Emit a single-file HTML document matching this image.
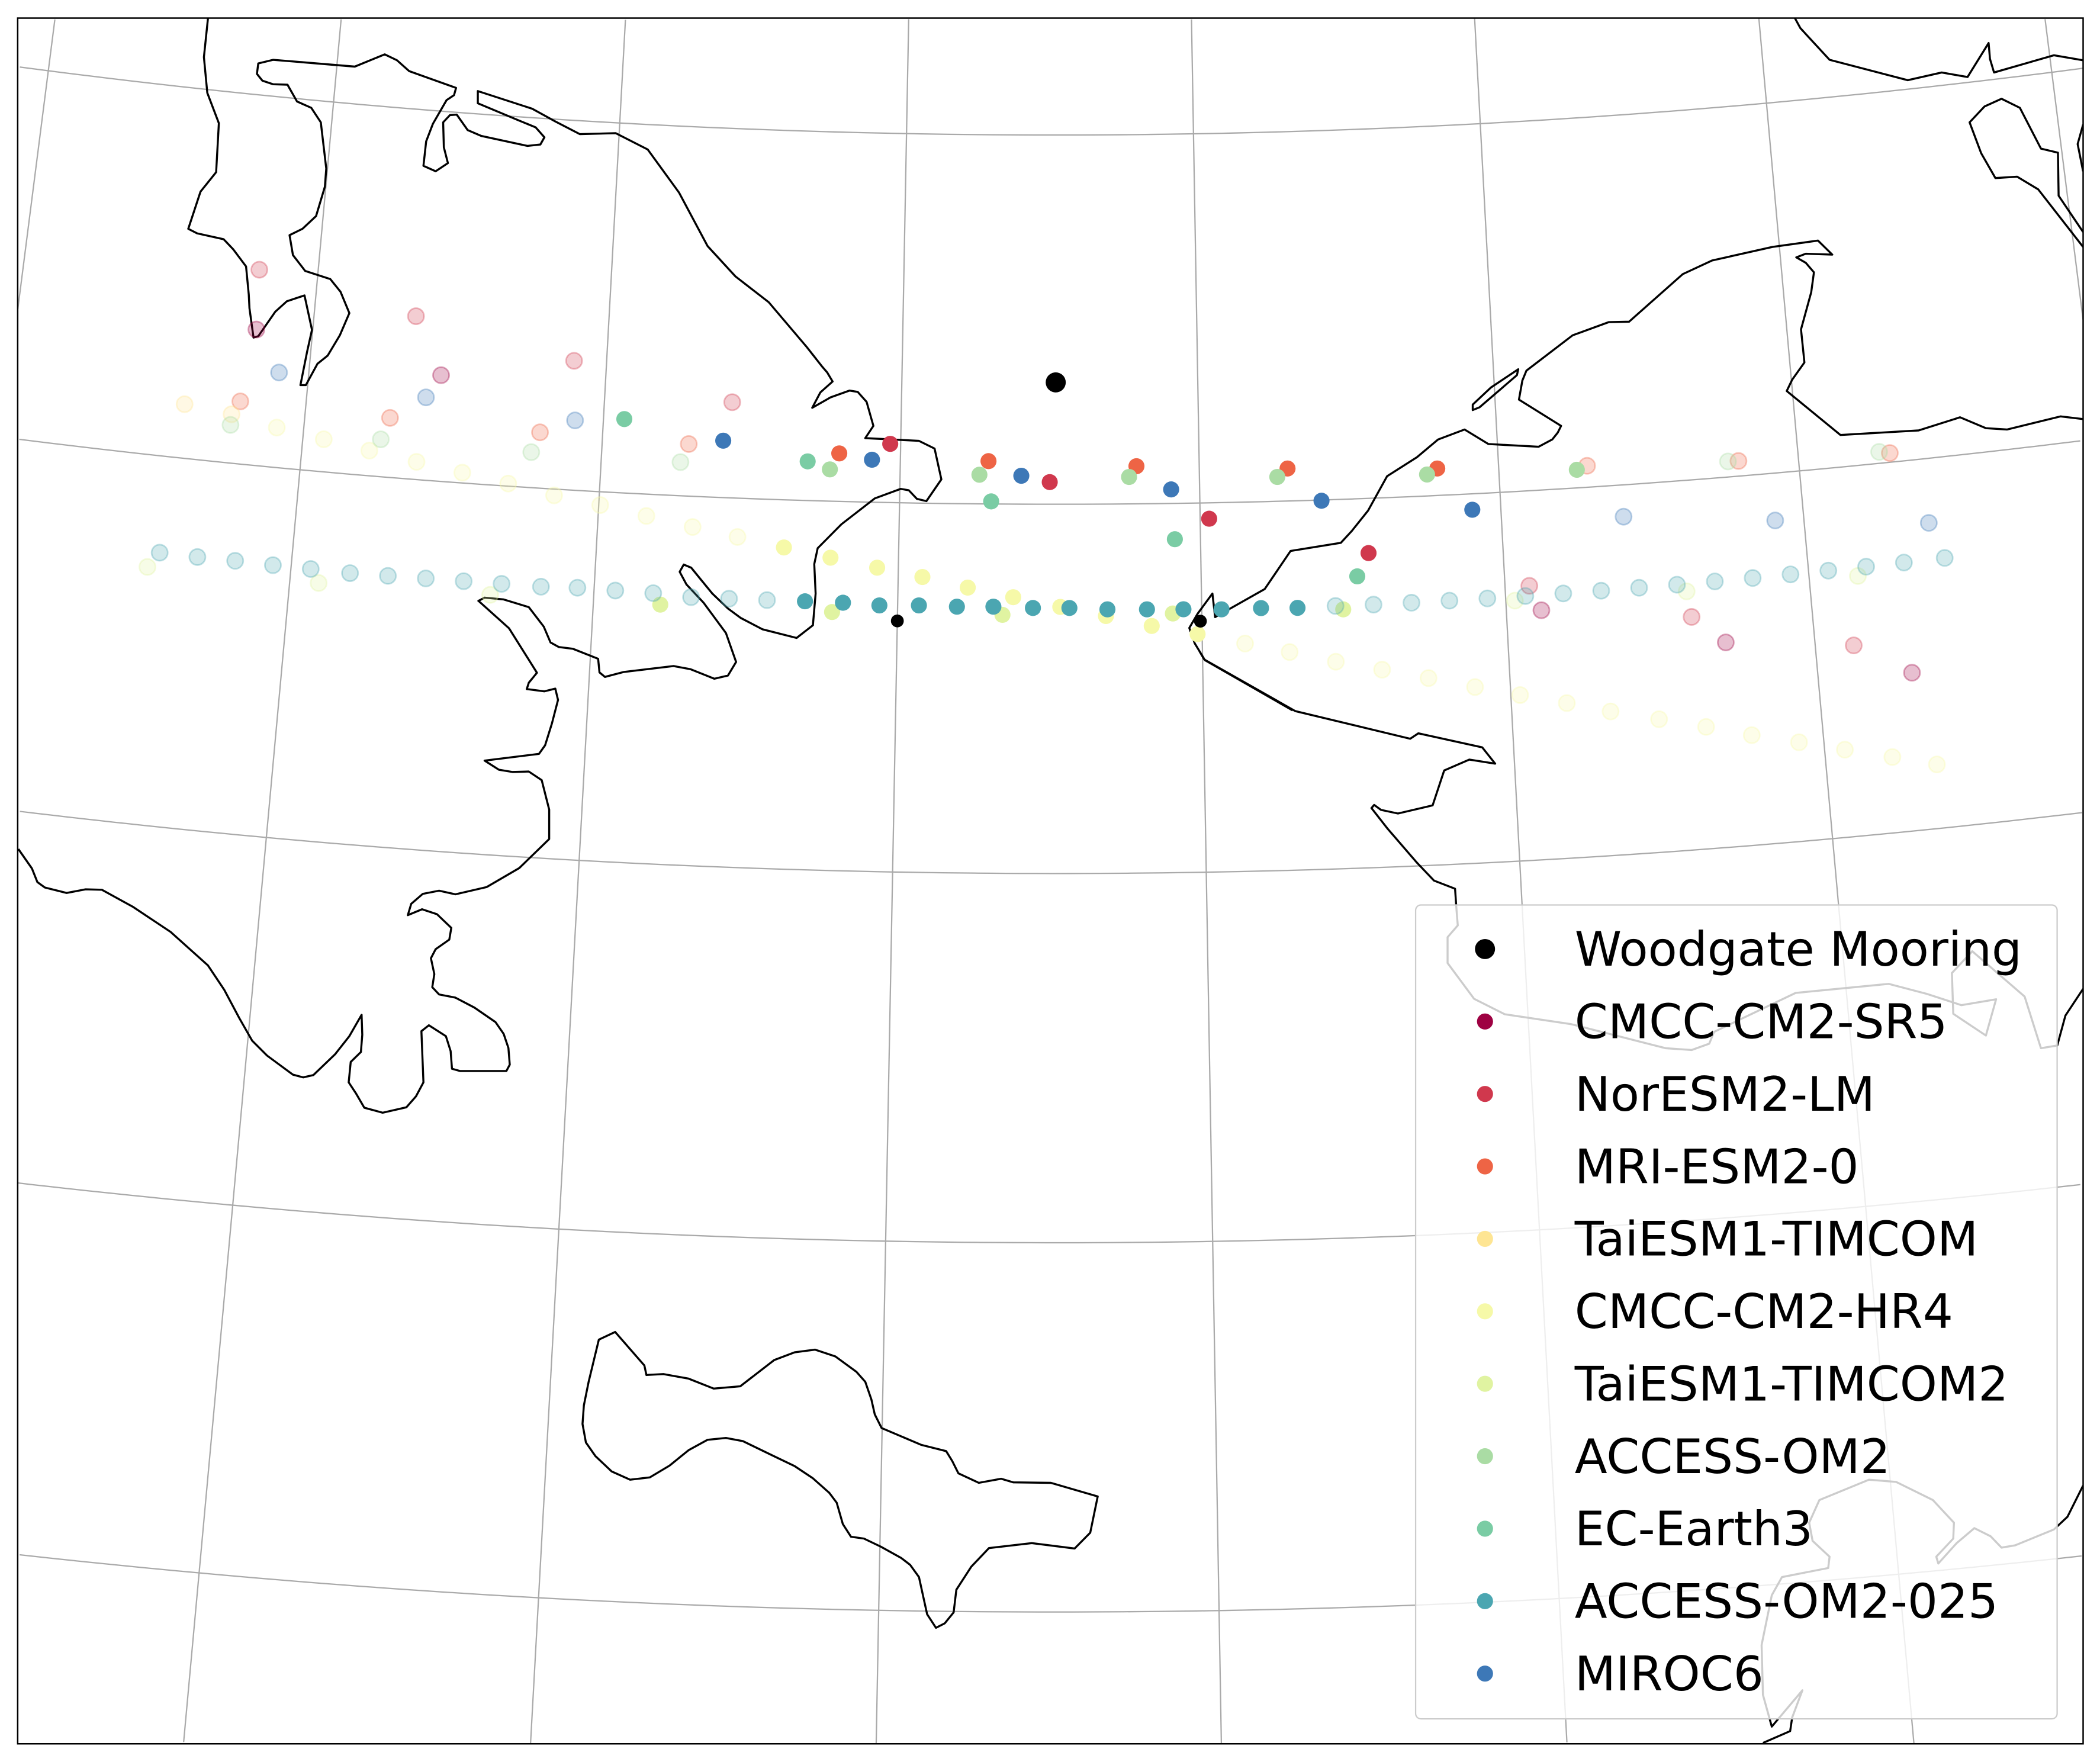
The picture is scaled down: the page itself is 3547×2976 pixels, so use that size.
<!DOCTYPE html>
<html><head><meta charset="utf-8"><title>Bering Strait model sections</title>
<style>html,body{margin:0;padding:0;background:#fff;width:3547px;height:2976px;overflow:hidden}svg{display:block;vertical-align:top}</style></head>
<body>
<svg id="map" xmlns="http://www.w3.org/2000/svg" width="3547" height="2976" viewBox="0 0 1568 1315.6" preserveAspectRatio="none">
<defs><clipPath id="frameClip"><rect x="13.2" y="13.5" width="1542.2" height="1288.5"/></clipPath></defs>
<rect x="0" y="0" width="1568" height="1315.6" fill="#fff"/>
<g id="grid" clip-path="url(#frameClip)" fill="none" stroke="#aaaaaa" stroke-width="1"></g>
<g id="coast" clip-path="url(#frameClip)" fill="none" stroke="#000" stroke-linejoin="round">
<g transform="translate(0,0) scale(0.5075,0.3383)"><path vector-effect="non-scaling-stroke" stroke-width="3.4" d="M306,40 L300,126 305,205 322,272 318,380 295,423 277,505 290,515 329,528 343,550 362,588 366,650 367,680 373,745 380,742 405,688 422,665 448,652 459,728 452,775 442,850 450,850 467,803 482,785 500,740 514,691 501,644 486,616 449,598 431,563 426,519 445,505 465,477 478,412 480,372 472,270 458,238 437,224 423,187 402,186 386,178 378,163 380,140 402,132 522,147 566,120 584,133 602,157 671,194 668,210 657,221 637,273 627,312 623,366 641,378 659,360 653,325 652,270 662,254 672,253 688,287 708,300 776,322 795,319 801,303 788,281 762,265 703,228 703,201 783,240 817,268 853,296 906,294 953,330 999,425 1041,543 1082,610 1131,667 1187,766 1209,808 1217,822 1225,842 1207,866 1195,900 1222,877 1250,862 1262,865 1275,887 1285,940 1273,967 1352,973 1375,990 1385,1058 1363,1106 1349,1101 1337,1082 1325,1079 1287,1100 1238,1157 1203,1210 1198,1245 1200,1310 1196,1380 1172,1408 1122,1389 1090,1364 1071,1343 1048,1310 1030,1277 1017,1253 1006,1246 1000,1262 1010,1290 1035,1330 1068,1397 1083,1461 1071,1491 1051,1498 1016,1477 991,1470 918,1483 890,1494 882,1484 880,1454 843,1432 822,1428 810,1418 800,1383 778,1340 741,1323 713,1319 703,1327"/></g>
<g transform="translate(0,442.1) scale(0.5075,0.3383)"><path vector-effect="non-scaling-stroke" stroke-width="3.4" d="M703,18 L749,80 790,178 778,200 775,214 801,219 817,213 821,238 812,290 802,338 793,357 713,372 734,392 754,397 778,396 797,415 808,480 808,545 764,609 716,651 670,667 646,659 622,666 605,688 600,713 621,700 643,711 664,741 661,767 641,788 634,808 639,843 636,872 646,888 670,895 698,917 729,949 741,975 748,1006 750,1043 745,1057 677,1057 665,1052 663,1013 656,980 631,956 620,969 623,1082 612,1113 598,1137 563,1149 536,1138 524,1107 513,1082 516,1037 531,1015 533,977 532,933 514,980 493,1020 461,1066 446,1071 431,1065 393,1023 371,990 352,940 330,878 306,824 251,750 196,695 150,657 126,656 98,664 66,652 55,640 47,610 27,567"/></g>
<g transform="translate(397.9,785.1) scale(0.5075,0.3383)"><path vector-effect="non-scaling-stroke" stroke-width="3.4" d="M97,636 L121,619 164,693 167,714 192,712 229,722 266,744 305,739 355,681 385,664 415,658 445,673 476,707 489,729 498,768 503,801 513,831 571,868 608,882 617,904 626,931 656,952 689,943 707,951 762,952 831,982 820,1062 797,1097 734,1085 671,1096 645,1137 623,1188 619,1238 606,1262 593,1272 580,1242 575,1208 568,1160 555,1133 542,1118 512,1093 487,1075 468,1071 456,1043 447,996 436,974 412,942 385,915 353,892 309,860 284,853 257,857 229,880 201,914 172,940 143,945 116,927 92,893 78,863 73,822 75,781 82,729 Z"/></g>
<g transform="translate(772.3,0) scale(0.5075,0.3383)">
<path vector-effect="non-scaling-stroke" stroke-width="3.4" d="M1119,40 L1127,62 1170,132 1285,177 1335,160 1373,170 1404,95 1406,130 1412,160 1500,122 1543,133"/>
<path vector-effect="non-scaling-stroke" stroke-width="3.4" d="M1543,545 L1477,418 1446,390 1414,393 1393,338 1376,270 1398,235 1423,218 1450,238 1481,328 1506,337 1507,432 1543,512"/>
<path vector-effect="non-scaling-stroke" stroke-width="3.4" d="M1543,275 L1535,318 1543,378"/>
<path vector-effect="non-scaling-stroke" stroke-width="3.4" d="M380,1568 L251,1457 236,1420 228,1386 240,1355 262,1310 266,1362 339,1300 377,1216 451,1198 467,1172 491,1127 519,1051 563,1009 594,970 633,948 668,980 742,986 762,970 770,955 775,940 713,882 718,840 724,818 792,740 845,711 875,710 954,605 997,575 1086,545 1153,531 1174,562 1135,560 1121,568 1135,580 1147,601 1143,645 1128,727 1133,800 1115,838 1107,863 1186,960 1301,950 1362,921 1400,945 1431,948 1510,919 1543,925"/>
<path vector-effect="non-scaling-stroke" stroke-width="3.4" d="M645,905 L645,893 672,855 712,815 710,828 655,899 Z"/>
</g>
<g transform="translate(772.3,486.3) scale(0.5075,0.3383)"><path vector-effect="non-scaling-stroke" stroke-width="3.4" d="M243,0 L250,18 384,132 553,193 565,181 659,212 678,248 640,239 603,263 586,340 535,358 510,350 500,339 496,346 520,392 562,465 588,506 619,524 621,568 623,605 608,631 608,688 647,767 692,801 790,823 929,876 967,880 993,866 1000,840 1120,754 1257,734 1313,756 1364,781 1415,768 1400,848 1352,800 1350,710 1380,662 1457,762 1481,876 1505,870 1517,804 1543,745"/></g>
<g transform="translate(772.3,785.1) scale(0.5075,0.3383)"><path vector-effect="non-scaling-stroke" stroke-width="3.4" d="M1543,958 L1520,1027 1500,1055 1443,1090 1423,1095 1407,1070 1383,1052 1357,1085 1330,1130 1327,1115 1352,1075 1353,1040 1322,990 1268,950 1228,945 1155,990 1140,1040 1145,1080 1170,1115 1168,1140 1100,1160 1085,1200 1070,1310 1072,1420 1085,1490 1130,1410 1115,1470 1112,1500 1072,1526"/></g>
</g>
<g id="points" clip-path="url(#frameClip)"></g>
<rect x="13.2" y="13.5" width="1542.2" height="1288.5" fill="none" stroke="#000" stroke-width="1.1"/>
<g id="legend">
<rect x="1057" y="675.7" width="479" height="607.7" rx="4" ry="4" fill="#fff" fill-opacity="0.8" stroke="#cccccc" stroke-width="1"/>
</g>
</svg>
<script>
// ---- data: lon (deg E) and lat (deg N) of each model's section points ----
const modelNames = ["CMCC-CM2-SR5","NorESM2-LM","MRI-ESM2-0","TaiESM1-TIMCOM","CMCC-CM2-HR4","TaiESM1-TIMCOM2","ACCESS-OM2","EC-Earth3","ACCESS-OM2-025","MIROC6"];
const modelColors = ["#9e0142","#d0384d","#ee6445","#fee593","#f6f9a8","#e0f3a1","#aadca4","#7acca4","#4ba6b1","#3d78b7"];

const moorLon = [-168.96];
const moorLat = [67.33];
const endLon = [-170.00, -168.01];
const endLat = [66.68, 66.68];

const sr5Lon = [-174.38,-173.11,-165.77,-164.58,-163.39];
const sr5Lat = [67.367,67.287,66.675,66.554,66.427];
const sr5Solid = [0,0,0,0,0];

const norLon = [-174.40,-173.31,-172.22,-171.14,-170.07,-169.00,-167.94,-166.89,-165.84,-164.79,-163.75];
const norLat = [67.529,67.441,67.350,67.259,67.159,67.060,66.957,66.852,66.743,66.630,66.516];
const norSolid = [0,0,0,0,1,1,1,1,0,0,0];

const mriLon = [-174.44,-173.43,-172.42,-171.42,-170.41,-169.41,-168.42,-167.41,-166.41,-165.41,-164.40,-163.39];
const mriLat = [67.169,67.161,67.151,67.141,67.130,67.116,67.102,67.088,67.073,67.058,67.041,67.025];
const mriSolid = [0,0,0,0,1,1,1,1,1,0,0,0];

const timLon = [-174.81,-174.49];
const timLat = [67.146,67.132];
const timSolid = [0,0];

const hr4Lon = [-174.18,-173.86,-173.55,-173.23,-172.92,-172.61,-172.30,-171.99,-171.68,-171.37,-171.07,-170.76,-170.45,-170.14,-169.84,-169.54,-169.24,-168.93,-168.63,-168.33,-168.03,-167.72,-167.43,-167.13,-166.83,-166.53,-166.23,-165.94,-165.64,-165.36,-165.05,-164.75,-164.46,-164.16,-163.87,-163.57,-163.29];
const hr4Lat = [67.108,67.088,67.068,67.048,67.028,67.007,66.983,66.964,66.941,66.917,66.895,66.871,66.847,66.823,66.800,66.773,66.748,66.722,66.697,66.669,66.645,66.617,66.591,66.561,66.535,66.507,66.477,66.449,66.420,66.390,66.360,66.330,66.298,66.268,66.237,66.205,66.173];
const hr4Solid = [0,0,0,0,0,0,0,0,0,0,0,1,1,1,1,1,1,1,1,1,1,0,0,0,0,0,0,0,0,0,0,0,0,0,0,0,0];

const tim2Lon = [-174.94,-173.81,-172.68,-171.56,-170.43,-169.31,-168.19,-167.07,-165.94,-164.81,-163.68];
const tim2Lat = [66.697,66.699,66.703,66.703,66.700,66.700,66.702,66.702,66.705,66.700,66.702];
const tim2Solid = [0,0,0,1,1,1,1,1,0,0,0];

const aomLon = [-174.49,-173.48,-172.47,-171.47,-170.47,-169.47,-168.47,-167.48,-166.48,-165.48,-164.47,-163.46];
const aomLat = [67.103,67.101,67.096,67.091,67.086,67.079,67.073,67.066,67.058,67.049,67.042,67.031];
const aomSolid = [0,0,0,0,1,1,1,1,1,1,0,0];

const ecLon = [-171.86,-170.62,-169.39,-168.17,-166.97];
const ecLat = [67.200,67.106,67.007,66.903,66.790];
const ecSolid = [1,1,1,1,1];

const a025Lon = [-174.87,-174.62,-174.37,-174.12,-173.87,-173.61,-173.36,-173.11,-172.86,-172.61,-172.35,-172.11,-171.86,-171.61,-171.36,-171.11,-170.86,-170.61,-170.36,-170.12,-169.86,-169.61,-169.37,-169.11,-168.87,-168.62,-168.36,-168.12,-167.87,-167.61,-167.37,-167.12,-166.87,-166.62,-166.37,-166.12,-165.87,-165.62,-165.37,-165.12,-164.87,-164.62,-164.37,-164.12,-163.87,-163.62,-163.37,-163.10];
const a025Lat = [66.739,66.738,66.738,66.736,66.735,66.733,66.734,66.735,66.735,66.735,66.734,66.737,66.735,66.733,66.727,66.727,66.727,66.727,66.726,66.721,66.723,66.721,66.722,66.719,66.719,66.715,66.714,66.713,66.711,66.712,66.710,66.712,66.712,66.713,66.714,66.715,66.716,66.717,66.718,66.719,66.720,66.721,66.722,66.723,66.724,66.725,66.726,66.727];
const a025Solid = [0,0,0,0,0,0,0,0,0,0,0,0,0,0,0,0,0,1,1,1,1,1,1,1,1,1,1,1,1,1,1,0,0,0,0,0,0,0,0,0,0,0,0,0,0,0,0,0];

const mirLon = [-174.20,-173.20,-172.19,-171.19,-170.19,-169.19,-168.19,-167.19,-166.19,-165.19,-164.19,-163.18];
const mirLat = [67.257,67.224,67.189,67.154,67.115,67.077,67.038,66.998,66.957,66.914,66.872,66.826];
const mirSolid = [0,0,0,1,1,1,1,1,1,0,0,0];

const gridLons = [-176,-174,-172,-170,-168,-166,-164,-162];
const gridLats = [68,67,66,65,64];

// ---- projection (conic-like) ----
const POLE_X = 788.5, POLE_Y = -5825, R0 = 5925.8, PX_PER_LAT = 275.7, LON0 = -168.958, DEG_PER_RAD = 55.31;
const FX0 = 13.2, FX1 = 1555.4, FY0 = 13.5, FY1 = 1302;
function proj(lon, lat) {
  const th = (lon - LON0) / DEG_PER_RAD;
  const r = R0 + (68 - lat) * PX_PER_LAT;
  return [POLE_X + r * Math.sin(th), POLE_Y + r * Math.cos(th)];
}
function inFrame(p) { return p[0] >= FX0 && p[0] <= FX1 && p[1] >= FY0 && p[1] <= FY1; }
const NS = "http://www.w3.org/2000/svg";
const grid = document.getElementById("grid");
function addPoly(ptsArr, name) {
  if (ptsArr.length < 2) return;
  let d = "";
  ptsArr.forEach(function (p) { d += (d ? " L" : "M") + p[0].toFixed(2) + "," + p[1].toFixed(2); });
  const pa = document.createElementNS(NS, "path");
  pa.setAttribute("d", d);
  
  
  grid.appendChild(pa);
}
gridLons.forEach(function (lon) {
  const arr = [];
  for (let lat = 70; lat >= 62; lat -= 0.005) {
    const p = proj(lon, lat);
    if (inFrame(p)) arr.push(p);
  }
  if (arr.length > 1) addPoly([arr[0], arr[arr.length - 1]], "meridian-line");
});
gridLats.forEach(function (lat) {
  const arr = [];
  for (let lon = -182; lon <= -156; lon += 0.02) {
    const p = proj(lon, lat);
    if (inFrame(p)) arr.push(p);
  }
  addPoly(arr.filter(function (p, i) { return i % 5 === 0 || i === arr.length - 1; }), "parallel-line");
});

const pts = document.getElementById("points");
function drawSeries(lons, lats, solid, color, r, name) {
  for (let i = 0; i < lons.length; i++) {
    const p = proj(lons[i], lats[i]);
    const c = document.createElementNS(NS, "circle");
    c.setAttribute("cx", p[0].toFixed(2));
    c.setAttribute("cy", p[1].toFixed(2));
    c.setAttribute("r", r);
    c.setAttribute("fill", color);
    if (!solid[i]) {
      c.setAttribute("fill-opacity", "0.25");
      c.setAttribute("stroke", color);
      c.setAttribute("stroke-opacity", "0.35");
      c.setAttribute("stroke-width", "1.2");
    }
    
    
    pts.appendChild(c);
  }
}
drawSeries(sr5Lon, sr5Lat, sr5Solid, modelColors[0], 6, "point-cmcc-cm2-sr5");
drawSeries(norLon, norLat, norSolid, modelColors[1], 6, "point-noresm2-lm");
drawSeries(mriLon, mriLat, mriSolid, modelColors[2], 6, "point-mri-esm2-0");
drawSeries(timLon, timLat, timSolid, modelColors[3], 6, "point-taiesm1-timcom");
drawSeries(hr4Lon, hr4Lat, hr4Solid, modelColors[4], 6, "point-cmcc-cm2-hr4");
drawSeries(tim2Lon, tim2Lat, tim2Solid, modelColors[5], 6, "point-taiesm1-timcom2");
drawSeries(aomLon, aomLat, aomSolid, modelColors[6], 6, "point-access-om2");
drawSeries(ecLon, ecLat, ecSolid, modelColors[7], 6, "point-ec-earth3");
drawSeries(a025Lon, a025Lat, a025Solid, modelColors[8], 6, "point-access-om2-025");
drawSeries(mirLon, mirLat, mirSolid, modelColors[9], 6, "point-miroc6");
drawSeries(endLon, endLat, [1, 1], "#000", 4.8, "strait-endpoint");
drawSeries(moorLon, moorLat, [1], "#000", 7.5, "woodgate-mooring");

// ---- legend ----
const legend = document.getElementById("legend");
const legLabels = ["Woodgate Mooring"].concat(modelNames);
const legColors = ["#000"].concat(modelColors);
for (let i = 0; i < legLabels.length; i++) {
  const y = 708.6 + 54.1 * i;
  const m = document.createElementNS(NS, "circle");
  m.setAttribute("cx", 1108.8); m.setAttribute("cy", y);
  m.setAttribute("r", i === 0 ? 7.5 : 6);
  m.setAttribute("fill", legColors[i]);
  
  
  legend.appendChild(m);
  const t = document.createElementNS(NS, "text");
  t.setAttribute("x", 1175.8); t.setAttribute("y", y + 12.5);
  t.setAttribute("font-family", "DejaVu Sans, Liberation Sans, sans-serif");
  t.setAttribute("font-size", "35.5");
  t.setAttribute("fill", "#000");
  t.textContent = legLabels[i];
  
  
  legend.appendChild(t);
}
</script>
</body></html>
